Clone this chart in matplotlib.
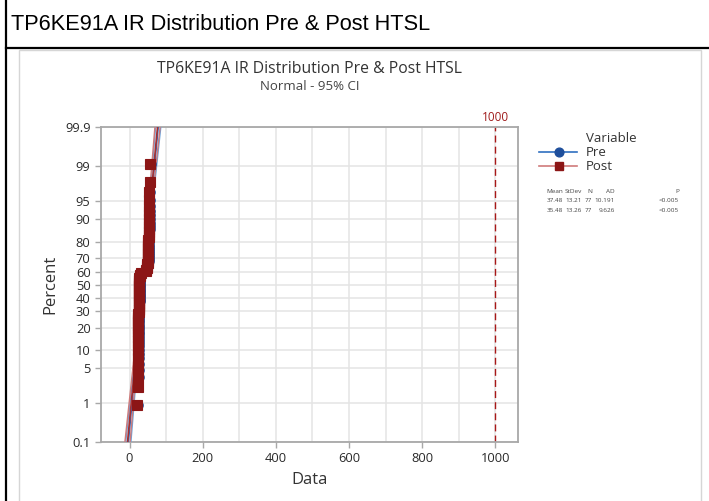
import numpy as np
import matplotlib
matplotlib.use("Agg")
import matplotlib.pyplot as plt
from matplotlib.lines import Line2D
from matplotlib.patches import Rectangle
from statistics import NormalDist

# ---------------- data ----------------
header_title = "TP6KE91A IR Distribution Pre & Post HTSL"
chart_title = "TP6KE91A IR Distribution Pre & Post HTSL"
chart_subtitle = "Normal - 95% CI"
x_label = "Data"
y_label = "Percent"
legend_title = "Variable"
series_names = ["Pre", "Post"]

pre_values = [
    23.5, 24.3, 24.7, 25.0, 25.2, 25.4, 25.5, 25.6, 25.7, 25.8,
    25.9, 26.0, 26.0, 26.1, 26.2, 26.3, 26.4, 26.4, 26.5, 26.6,
    26.7, 26.7, 26.8, 26.9, 27.0, 27.0, 27.1, 27.2, 27.3, 27.4,
    27.4, 27.5, 27.6, 27.7, 27.8, 27.9, 28.0, 28.1, 28.2, 28.4,
    28.6, 28.9, 29.3, 29.9, 30.8, 32.1,
    45.8, 47.3, 48.6, 49.7, 51.0, 51.5, 51.9, 52.2, 52.5, 52.8,
    52.6, 52.8, 53.0, 53.2, 53.4, 53.6, 53.8, 54.0, 54.2, 54.4,
    54.6, 54.8, 55.0, 55.2, 55.4, 55.6, 55.8, 56.1, 56.4, 57.3, 59.0,
]
post_values = [
    21.7, 22.2, 22.6, 22.8, 23.0, 23.2, 23.3, 23.4, 23.5, 23.6,
    23.7, 23.8, 23.8, 23.9, 24.0, 24.1, 24.2, 24.2, 24.3, 24.4,
    24.5, 24.5, 24.6, 24.7, 24.8, 24.8, 24.9, 25.0, 25.1, 25.2,
    25.2, 25.3, 25.4, 25.5, 25.6, 25.7, 25.8, 25.9, 26.0, 26.2,
    26.4, 26.7, 27.2, 27.8, 28.7, 30.2,
    43.7, 45.2, 46.7, 47.7, 49.0, 49.5, 49.9, 50.2, 50.5, 50.8,
    50.6, 50.8, 51.0, 51.2, 51.4, 51.6, 51.8, 52.0, 52.2, 52.4,
    52.6, 52.8, 53.0, 53.2, 53.4, 53.6, 53.8, 54.1, 54.4, 55.3, 57.2,
]

stat_means = [37.48, 35.48]
stat_stdevs = [13.21, 13.26]
stat_n = [77, 77]
stat_ad = ["10.191", "9.626"]
stat_p = ["<0.005", "<0.005"]
stat_headers = ["Mean", "StDev", "N", "AD", "P"]

ref_line_x = 1000
ref_line_label = "1000"

y_ticks = [0.1, 1, 5, 10, 20, 30, 40, 50, 60, 70, 80, 90, 95, 99, 99.9]
y_tick_labels = ["0.1", "1", "5", "10", "20", "30", "40", "50", "60",
                 "70", "80", "90", "95", "99", "99.9"]
x_ticks = [0, 200, 400, 600, 800, 1000]
x_tick_labels = ["0", "200", "400", "600", "800", "1000"]
x_grid = [0, 100, 200, 300, 400, 500, 600, 700, 800, 900, 1000]
x_limits = [-78, 1062]
y_limits = [0.1, 99.9]

# ---------------- styles ----------------
W, H = 709, 501
pre_marker_color = "#1f4f9c"
pre_line_color = "#2f6fc0"
pre_ci_color = "#6aa3dc"
post_marker_color = "#8c1616"
post_line_color = "#a83030"
post_ci_color = "#cf7a7a"
text_dark = "#333333"
spine_gray = "#a8a8a8"
grid_gray = "#e4e4e4"
chart_font = ["Open Sans", "DejaVu Sans"]


def fx(px):
    return px / W


def fy(py):
    return 1 - py / H


_nd = NormalDist()
_ppf = np.vectorize(lambda q: _nd.inv_cdf(q), otypes=[float])
_cdf = np.vectorize(lambda z: _nd.cdf(z), otypes=[float])


def pct_forward(p):
    p = np.asarray(p, dtype=float)
    q = np.clip(p / 100.0, 1e-9, 1 - 1e-9)
    return _ppf(q)


def pct_inverse(z):
    z = np.asarray(z, dtype=float)
    return _cdf(z) * 100.0


fig = plt.figure(figsize=(W / 100, H / 100), dpi=100)
fig.patch.set_facecolor("white")

# outer table frame
fig.add_artist(Line2D([fx(6), fx(6)], [0, 1], color="black", lw=1.6))
fig.add_artist(Line2D([fx(6), 1], [fy(47.5), fy(47.5)], color="black", lw=1.6))
fig.text(fx(11), fy(24), header_title, fontsize=15.7, family="Liberation Sans",
         color="black", ha="left", va="center")

# chart image frame (behind the axes)
frame = Rectangle((fx(18.5), fy(505)), fx(700.5) - fx(18.5), fy(49.5) - fy(505),
                  transform=fig.transFigure, facecolor="white",
                  edgecolor="#d6d6d6", lw=1.0, zorder=-5)
fig.add_artist(frame)

# axes
ax = fig.add_axes([fx(101), fy(442), fx(518) - fx(101), fy(127.3) - fy(442)])
ax.set_zorder(2)
ax.set_yscale("function", functions=(pct_forward, pct_inverse))
ax.set_xlim(*x_limits)
ax.set_ylim(*y_limits)

for gx in x_grid:
    ax.axvline(gx, color=grid_gray, lw=1.1, zorder=0)
for gy in y_ticks:
    ax.axhline(gy, color=grid_gray, lw=1.1, zorder=0)

ax.set_xticks(x_ticks)
ax.set_xticklabels(x_tick_labels)
ax.set_yticks(y_ticks)
ax.set_yticklabels(y_tick_labels)
ax.yaxis.set_minor_locator(matplotlib.ticker.NullLocator())
ax.xaxis.set_minor_locator(matplotlib.ticker.NullLocator())
ax.tick_params(axis="both", colors=spine_gray, labelcolor="#2a2a2a",
               length=4, width=1.0, labelsize=9.3)
for lab in ax.get_xticklabels() + ax.get_yticklabels():
    lab.set_family(chart_font)
for s in ax.spines.values():
    s.set_color(spine_gray)
    s.set_linewidth(1.3)

ax.set_xlabel(x_label, fontsize=12, color=text_dark, family=chart_font, labelpad=5)
ax.set_ylabel(y_label, fontsize=12, color=text_dark, family=chart_font, labelpad=5)

series = [
    (pre_values, stat_means[0], stat_stdevs[0], stat_n[0], "o",
     pre_marker_color, pre_line_color, pre_ci_color),
    (post_values, stat_means[1], stat_stdevs[1], stat_n[1], "s",
     post_marker_color, post_line_color, post_ci_color),
]

z_grid = np.linspace(float(pct_forward(y_limits[0])), float(pct_forward(y_limits[1])), 200)
p_grid = pct_inverse(z_grid)

# fitted lines and confidence bands (drawn below the symbols)
for vals, mu, sd, n, mk, mcol, lcol, cicol in series:
    fit = mu + sd * z_grid
    half = 1.96 * sd * np.sqrt(1.0 / n + z_grid ** 2 / (2.0 * n))
    ax.plot(fit - half, p_grid, color=cicol, lw=1.0, zorder=3)
    ax.plot(fit + half, p_grid, color=cicol, lw=1.0, zorder=3)
    ax.plot(fit, p_grid, color=lcol, lw=1.2, zorder=3)

# data symbols
for vals, mu, sd, n, mk, mcol, lcol, cicol in series:
    v = np.sort(np.asarray(vals, dtype=float))
    ranks = np.arange(1, len(v) + 1)
    pos = (ranks - 0.3) / (len(v) + 0.4) * 100.0
    ax.plot(v, pos, linestyle="none", marker=mk, markersize=6.8, markeredgewidth=0.8,
            markerfacecolor=mcol, markeredgecolor=mcol, zorder=4)

# reference line
ax.axvline(ref_line_x, color="#a81818", lw=1.0, linestyle=(0, (5, 3)), zorder=2)
ax.text(ref_line_x, 1.012, ref_line_label, transform=ax.get_xaxis_transform(),
        ha="center", va="bottom", fontsize=8.5, color="#a01c1c", family=chart_font)

# titles
cx = (fx(101) + fx(518)) / 2
fig.text(cx, fy(69), chart_title, ha="center", va="center", fontsize=11.3,
         color="#333333", family=chart_font, fontweight="medium")
fig.text(cx, fy(86), chart_subtitle, ha="center", va="center", fontsize=9.5,
         color="#444444", family=chart_font)

# legend
fig.text(fx(586), fy(138), legend_title, ha="left", va="center", fontsize=9.5,
         color=text_dark, family=chart_font)
leg_rows = [(series_names[0], 152, "o", pre_marker_color, pre_line_color),
            (series_names[1], 166, "s", post_marker_color, post_ci_color)]
for name, yy, mk, mcol, lcol in leg_rows:
    fig.add_artist(Line2D([fx(539), fx(577)], [fy(yy), fy(yy)], color=lcol, lw=1.2))
    fig.add_artist(Line2D([fx(559)], [fy(yy)], marker=mk, markersize=6.3,
                          color=mcol, linestyle="none"))
    fig.text(fx(586), fy(yy), name, ha="left", va="center", fontsize=9.5,
             color=text_dark, family=chart_font)

# stats table
col_x = [563, 582, 592, 615, 679]
fig_rows = [stat_headers,
            [f"{stat_means[0]:.2f}", f"{stat_stdevs[0]:.2f}", str(stat_n[0]), stat_ad[0], stat_p[0]],
            [f"{stat_means[1]:.2f}", f"{stat_stdevs[1]:.2f}", str(stat_n[1]), stat_ad[1], stat_p[1]]]
for r, yy in zip(fig_rows, [191, 200.7, 210]):
    for txt, xx in zip(r, col_x):
        fig.text(fx(xx), fy(yy), txt, ha="right", va="center", fontsize=4.6,
                 color="#444444", family=chart_font)

fig.savefig("out.png", dpi=100, facecolor="white")
